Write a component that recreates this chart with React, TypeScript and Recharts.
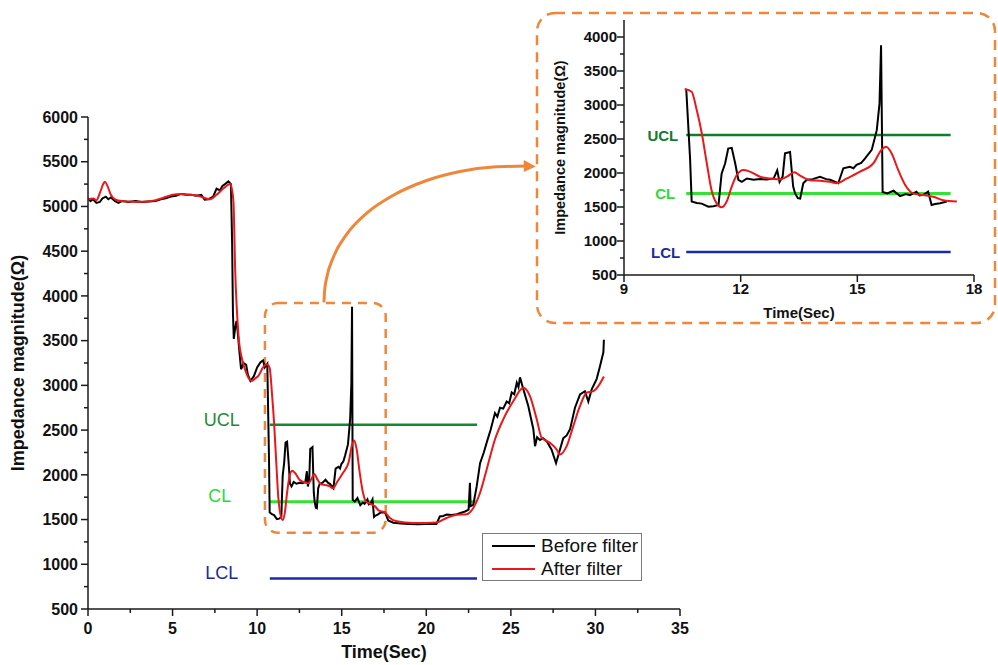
import React from "react";
import {
  Legend,
  Line,
  LineChart,
  ReferenceArea,
  ReferenceLine,
  XAxis,
  YAxis,
} from "recharts";

// [time (s), impedance (Ω)]
const beforeFilter: [number, number][] = [
  [0, 5090], [0.15, 5060], [0.3, 5080], [0.5, 5040], [0.7, 5050], [0.85, 5090],
  [1.05, 5110], [1.2, 5080], [1.35, 5100], [1.6, 5060], [1.8, 5040], [2.0, 5060],
  [2.4, 5050], [2.8, 5060], [3.2, 5050], [3.6, 5055], [4.0, 5060], [4.3, 5080],
  [4.6, 5090], [4.9, 5110], [5.2, 5120], [5.5, 5140], [5.8, 5130], [6.1, 5130],
  [6.4, 5120], [6.7, 5130], [6.9, 5075], [7.1, 5080], [7.4, 5110], [7.6, 5200],
  [7.8, 5180], [7.95, 5230], [8.1, 5250], [8.3, 5280], [8.45, 5250], [8.52, 4600],
  [8.57, 3800], [8.62, 3520], [8.7, 3640], [8.78, 3720], [8.85, 3600], [8.95, 3380],
  [9.05, 3180], [9.2, 3250], [9.35, 3230], [9.45, 3120], [9.6, 3050], [9.8, 3100],
  [10.0, 3200], [10.2, 3260], [10.35, 3280], [10.45, 3200], [10.6, 3240], [10.7, 2200],
  [10.74, 1580], [10.87, 1560], [11.0, 1550], [11.17, 1505], [11.3, 1510], [11.43, 1530],
  [11.51, 1990], [11.6, 2140], [11.68, 2360], [11.77, 2370], [11.86, 2140], [11.94, 1900],
  [12.03, 1870], [12.16, 1920], [12.33, 1900], [12.5, 1910], [12.67, 1905], [12.85, 1920],
  [12.94, 2040], [13.0, 1870], [13.08, 1950], [13.14, 2290], [13.27, 2310], [13.35, 1800],
  [13.4, 1700], [13.47, 1630], [13.53, 1625], [13.61, 1850], [13.7, 1900], [13.85, 1910],
  [14.04, 1945], [14.2, 1910], [14.3, 1900], [14.51, 1850], [14.64, 2070], [14.81, 2090],
  [14.9, 2070], [14.98, 2120], [15.1, 2150], [15.2, 2215], [15.37, 2340], [15.5, 2630],
  [15.57, 3020], [15.61, 3880], [15.65, 1720], [15.77, 1700], [15.93, 1740], [16.1, 1660],
  [16.25, 1690], [16.35, 1675], [16.52, 1725], [16.6, 1670], [16.7, 1680], [16.82, 1725],
  [16.91, 1530], [17.0, 1545], [17.13, 1555], [17.3, 1580], [17.56, 1580], [17.75, 1490],
  [18.05, 1465], [18.5, 1455], [19.0, 1450], [19.5, 1448], [20.0, 1450], [20.6, 1450],
  [20.8, 1535], [21.0, 1540], [21.2, 1555], [21.5, 1550], [21.8, 1560], [22.29, 1590],
  [22.5, 1610], [22.58, 1910], [22.62, 1650], [22.78, 1665], [22.98, 1870], [23.18, 2130],
  [23.4, 2250], [23.57, 2360], [23.8, 2500], [24.06, 2690], [24.2, 2650], [24.36, 2750],
  [24.55, 2740], [24.75, 2820], [24.9, 2800], [25.05, 2920], [25.2, 2900], [25.35, 3030],
  [25.45, 2980], [25.54, 3090], [25.74, 2955], [26.03, 2770], [26.33, 2510], [26.43, 2320],
  [26.55, 2420], [26.72, 2390], [26.9, 2410], [27.12, 2375], [27.41, 2280], [27.67, 2130],
  [27.9, 2280], [28.1, 2410], [28.3, 2440], [28.5, 2510], [28.79, 2750], [29.09, 2900],
  [29.38, 2935], [29.58, 2820], [29.78, 2955], [30.07, 3070], [30.27, 3215], [30.47, 3370],
  [30.5, 3510],
];

const afterFilter: [number, number][] = [
  [0, 5080], [0.3, 5090], [0.5, 5070], [0.7, 5150], [0.9, 5250], [1.0, 5275],
  [1.15, 5230], [1.35, 5130], [1.6, 5080], [2.0, 5060], [2.5, 5055], [3.0, 5050],
  [3.5, 5055], [4.0, 5070], [4.5, 5100], [5.0, 5130], [5.5, 5140], [6.0, 5130],
  [6.5, 5120], [6.9, 5095], [7.2, 5080], [7.6, 5130], [8.0, 5200], [8.42, 5250],
  [8.5, 5200], [8.6, 5050], [8.7, 4300], [8.9, 3550], [9.1, 3300], [9.28, 3180],
  [9.5, 3080], [9.68, 3050], [9.9, 3080], [10.07, 3105], [10.35, 3200], [10.56, 3235],
  [10.74, 3195], [10.87, 2925], [11.0, 2585], [11.13, 2140], [11.25, 1750], [11.38, 1555],
  [11.51, 1495], [11.64, 1580], [11.77, 1800], [11.9, 1970], [12.07, 2045], [12.24, 2020],
  [12.5, 1945], [12.76, 1920], [13.02, 1905], [13.2, 1950], [13.38, 2010], [13.53, 1960],
  [13.78, 1895], [14.04, 1885], [14.3, 1870], [14.47, 1850], [14.73, 1920], [15.07, 2020],
  [15.41, 2140], [15.62, 2340], [15.74, 2385], [15.88, 2290], [16.05, 2045], [16.23, 1825],
  [16.44, 1700], [16.7, 1675], [16.95, 1650], [17.21, 1600], [17.56, 1580], [17.85, 1517],
  [18.25, 1480], [19.23, 1461], [20.0, 1462], [20.6, 1467], [21.2, 1517], [21.8, 1554],
  [22.39, 1560], [22.78, 1630], [23.18, 1800], [23.57, 2060], [24.06, 2395], [24.55, 2620],
  [25.15, 2825], [25.74, 2974], [26.13, 2880], [26.53, 2620], [26.82, 2415], [27.31, 2357],
  [27.71, 2283], [27.9, 2226], [28.3, 2320], [28.69, 2545], [29.09, 2770], [29.48, 2918],
  [29.88, 2936], [30.17, 2992], [30.5, 3100],
];

// control limits
const UCL = 2560;
const CL = 1700;
const LCL = 840;
const mainLimitSpan = [10.75, 23];
const insetLimitSpan = [10.6, 17.4];

// zoomed window (dashed box) and the arrow to the inset
const zoomBox = { t1: 10.46, t2: 17.6, v1: 1352, v2: 3920 };
const zoomArrow: [number, number][] = [
  [13.95, 3927], [13.99, 4060], [14.11, 4200], [14.5, 4430], [15.3, 4690], [16.48, 4925],
  [18.05, 5125], [20.02, 5290], [21.99, 5391], [23.96, 5441], [25.94, 5452],
];

const mainXTicks = [0, 5, 10, 15, 20, 25, 30, 35];
const mainYTicks = [500, 1000, 1500, 2000, 2500, 3000, 3500, 4000, 4500, 5000, 5500, 6000];
const insetXTicks = [9, 12, 15, 18];
const insetYTicks = [500, 1000, 1500, 2000, 2500, 3000, 3500, 4000];
const legendOrder = ["Before filter", "After filter"];

const FONT = '"Liberation Sans", Arial, Helvetica, sans-serif';
const AXIS = "#1a1a1a";
const ORANGE = "#EF873A";

const toPts = (pairs: [number, number][]) => pairs.map(([t, v]) => ({ t, v }));
const withMinor = (ticks: number[]) =>
  ticks.flatMap((t, i) => (i === 0 ? [t] : [(ticks[i - 1] + t) / 2, t]));

function makeXTick(majors: number[], fontSize: number, gap: number, minor = true) {
  return (props: any) => {
    const { x, y, payload } = props;
    const major = majors.includes(payload.value);
    if (!major && !minor) return <g />;
    return (
      <g>
        <line x1={x} x2={x} y1={y} y2={y + (major ? 7 : 4)} stroke={AXIS} strokeWidth={1.5} />
        {major && (
          <text x={x} y={y + gap} textAnchor="middle" fontSize={fontSize} fontWeight="bold" fontFamily={FONT} fill="#111">
            {payload.value}
          </text>
        )}
      </g>
    );
  };
}

function makeYTick(majors: number[], fontSize: number, gap: number) {
  return (props: any) => {
    const { x, y, payload } = props;
    const major = majors.includes(payload.value);
    return (
      <g>
        <line x1={x} x2={x - (major ? 7 : 4)} y1={y} y2={y} stroke={AXIS} strokeWidth={1.5} />
        {major && (
          <text x={x - gap} y={y} dy="0.36em" textAnchor="end" fontSize={fontSize} fontWeight="bold" fontFamily={FONT} fill="#111">
            {payload.value}
          </text>
        )}
      </g>
    );
  };
}

function xTitle(text: string, fontSize: number, dy: number) {
  return {
    content: (p: any) => {
      const vb = p.viewBox ?? {};
      return (
        <text x={vb.x + vb.width / 2} y={vb.y + dy} textAnchor="middle" dominantBaseline="central" fontSize={fontSize} fontWeight="bold" fontFamily={FONT} fill="#111">
          {text}
        </text>
      );
    },
  };
}

function yTitle(text: string, fontSize: number, dx: number) {
  return {
    content: (p: any) => {
      const vb = p.viewBox ?? {};
      const cx = vb.x + dx;
      const cy = vb.y + vb.height / 2;
      return (
        <text x={cx} y={cy} transform={`rotate(-90 ${cx} ${cy})`} textAnchor="middle" dominantBaseline="central" fontSize={fontSize} fontWeight="bold" fontFamily={FONT} fill="#111">
          {text}
        </text>
      );
    },
  };
}

function limitLabel(text: string, color: string, o: { size: number; bold?: boolean; dx: number; dy: number; anchor: "end" | "middle" }) {
  return {
    content: (p: any) => {
      const vb = p.viewBox ?? {};
      return (
        <text x={vb.x + o.dx} y={vb.y + o.dy} textAnchor={o.anchor} dominantBaseline="central" fontSize={o.size} fontWeight={o.bold ? "bold" : "normal"} fontFamily={FONT} fill={color}>
          {text}
        </text>
      );
    },
  };
}

function ArrowHead(props: any) {
  const { cx, cy, index } = props;
  if (index !== zoomArrow.length - 1) return <g key={`a-${index}`} />;
  return (
    <polygon
      key={`a-${index}`}
      points={`${cx - 3},${cy - 6} ${cx + 9},${cy + 0.5} ${cx - 3},${cy + 6}`}
      fill={ORANGE}
    />
  );
}

function LegendBox({ payload }: any) {
  const items = legendOrder
    .map((name) => (payload ?? []).find((e: any) => e.value === name))
    .filter(Boolean);
  return (
    <div style={{ border: "1.5px solid #7a7a7a", background: "#fff", width: 160, height: 48, boxSizing: "border-box", paddingLeft: 9, fontFamily: FONT, fontSize: 19, color: "#111" }}>
      {items.map((e: any) => (
        <div key={e.value} style={{ display: "flex", alignItems: "center", height: 23 }}>
          <svg width={44} height={8}>
            <line x1={0} x2={43} y1={4} y2={4} stroke={e.color} strokeWidth={2} />
          </svg>
          <span style={{ marginLeft: 5, lineHeight: "23px" }}>{e.value}</span>
        </div>
      ))}
    </div>
  );
}

const before = toPts(beforeFilter);
const after = toPts(afterFilter);
const insetBefore = before.filter((p) => p.t >= 10.6 && p.t <= 17.35);
const insetAfter = after.filter((p) => p.t >= 10.55 && p.t <= 17.6);

export default function App() {
  return (
    <div style={{ position: "absolute", left: 0, top: 0, width: 998, height: 665, background: "#fff", overflow: "hidden" }}>
      <LineChart width={998} height={665} margin={{ top: 117, right: 318, bottom: 0, left: 0 }}>
        <XAxis
          type="number"
          dataKey="t"
          domain={[0, 35]}
          ticks={withMinor(mainXTicks)}
          interval={0}
          tickSize={0}
          tickMargin={0}
          tickLine={false}
          tick={makeXTick(mainXTicks, 16, 25)}
          axisLine={{ stroke: AXIS, strokeWidth: 1.5 }}
          height={56}
          allowDataOverflow
          label={xTitle("Time(Sec)", 18, 43)}
        />
        <YAxis
          type="number"
          domain={[500, 6000]}
          ticks={withMinor(mainYTicks)}
          interval={0}
          tickSize={0}
          tickMargin={0}
          tickLine={false}
          tick={makeYTick(mainYTicks, 16, 10)}
          axisLine={{ stroke: AXIS, strokeWidth: 1.5 }}
          width={88}
          allowDataOverflow
          label={yTitle("Impedance magnitude(Ω)", 18, 18)}
        />
        <ReferenceArea
          x1={zoomBox.t1}
          x2={zoomBox.t2}
          y1={zoomBox.v1}
          y2={zoomBox.v2}
          ifOverflow="visible"
          shape={(p: any) => (
            <rect x={p.x} y={p.y} width={p.width} height={p.height} rx={13} fill="none" stroke={ORANGE} strokeWidth={2.5} strokeDasharray="9 7" />
          )}
        />
        <ReferenceLine
          segment={[{ x: mainLimitSpan[0], y: UCL }, { x: mainLimitSpan[1], y: UCL }]}
          stroke="#138a2b"
          strokeWidth={2.5}
          label={limitLabel("UCL", "#1d8a35", { size: 18, dx: -48, dy: -5, anchor: "middle" })}
        />
        <ReferenceLine
          segment={[{ x: mainLimitSpan[0], y: CL }, { x: mainLimitSpan[1], y: CL }]}
          stroke="#33e233"
          strokeWidth={3}
          label={limitLabel("CL", "#2fd83a", { size: 18, dx: -50, dy: -6, anchor: "middle" })}
        />
        <ReferenceLine
          segment={[{ x: mainLimitSpan[0], y: LCL }, { x: mainLimitSpan[1], y: LCL }]}
          stroke="#1c2aa8"
          strokeWidth={2.5}
          label={limitLabel("LCL", "#1c2a8f", { size: 18, dx: -48, dy: -6, anchor: "middle" })}
        />
        <Line data={before} dataKey="v" name="Before filter" type="linear" stroke="#000" strokeWidth={2} dot={false} isAnimationActive={false} />
        <Line data={after} dataKey="v" name="After filter" type="monotone" stroke="#e8181c" strokeWidth={2} dot={false} isAnimationActive={false} />
        <Line
          data={toPts(zoomArrow)}
          dataKey="v"
          name="arrow"
          type="monotone"
          stroke={ORANGE}
          strokeWidth={3}
          dot={ArrowHead}
          activeDot={false}
          legendType="none"
          isAnimationActive={false}
        />
        <Legend
          layout="vertical"
          align="center"
          verticalAlign="middle"
          content={(p: any) => <LegendBox payload={p.payload} />}
          wrapperStyle={{ left: 482, top: 533, width: 160, height: 48 }}
        />
      </LineChart>

      <svg width={998} height={665} style={{ position: "absolute", left: 0, top: 0, pointerEvents: "none" }}>
        <rect x={537} y={13} width={458} height={310} rx={18} fill="none" stroke={ORANGE} strokeWidth={2.5} strokeDasharray="10 7" />
      </svg>

      <div style={{ position: "absolute", left: 540, top: 0 }}>
        <LineChart width={450} height={330} margin={{ top: 20, right: 16, bottom: 0, left: 0 }}>
          <XAxis
            type="number"
            dataKey="t"
            domain={[9, 18]}
            ticks={insetXTicks}
            interval={0}
            tickSize={0}
            tickMargin={0}
            tickLine={false}
            tick={makeXTick(insetXTicks, 15, 19, false)}
            axisLine={{ stroke: AXIS, strokeWidth: 1.5 }}
            height={55}
            allowDataOverflow
            label={xTitle("Time(Sec)", 15, 37)}
          />
          <YAxis
            type="number"
            domain={[500, 4250]}
            ticks={withMinor(insetYTicks)}
            interval={0}
            tickSize={0}
            tickMargin={0}
            tickLine={false}
            tick={makeYTick(insetYTicks, 15, 7)}
            axisLine={{ stroke: AXIS, strokeWidth: 1.5 }}
            width={84}
            allowDataOverflow
            label={yTitle("Impedance magnitude(Ω)", 14.5, 20)}
          />
          <ReferenceLine
            segment={[{ x: insetLimitSpan[0], y: UCL }, { x: insetLimitSpan[1], y: UCL }]}
            stroke="#0f7d2a"
            strokeWidth={2.5}
            label={limitLabel("UCL", "#0f7d2a", { size: 15, bold: true, dx: -8, dy: 1, anchor: "end" })}
          />
          <ReferenceLine
            segment={[{ x: insetLimitSpan[0], y: CL }, { x: insetLimitSpan[1], y: CL }]}
            stroke="#33e233"
            strokeWidth={3}
            label={limitLabel("CL", "#2fd83a", { size: 15, bold: true, dx: -11, dy: 0, anchor: "end" })}
          />
          <ReferenceLine
            segment={[{ x: insetLimitSpan[0], y: LCL }, { x: insetLimitSpan[1], y: LCL }]}
            stroke="#1c2aa8"
            strokeWidth={2.5}
            label={limitLabel("LCL", "#1c2a9f", { size: 15, bold: true, dx: -6, dy: 1, anchor: "end" })}
          />
          <Line data={insetBefore} dataKey="v" type="linear" stroke="#000" strokeWidth={2} dot={false} isAnimationActive={false} />
          <Line data={insetAfter} dataKey="v" type="monotone" stroke="#e8181c" strokeWidth={2} dot={false} isAnimationActive={false} />
        </LineChart>
      </div>
    </div>
  );
}
